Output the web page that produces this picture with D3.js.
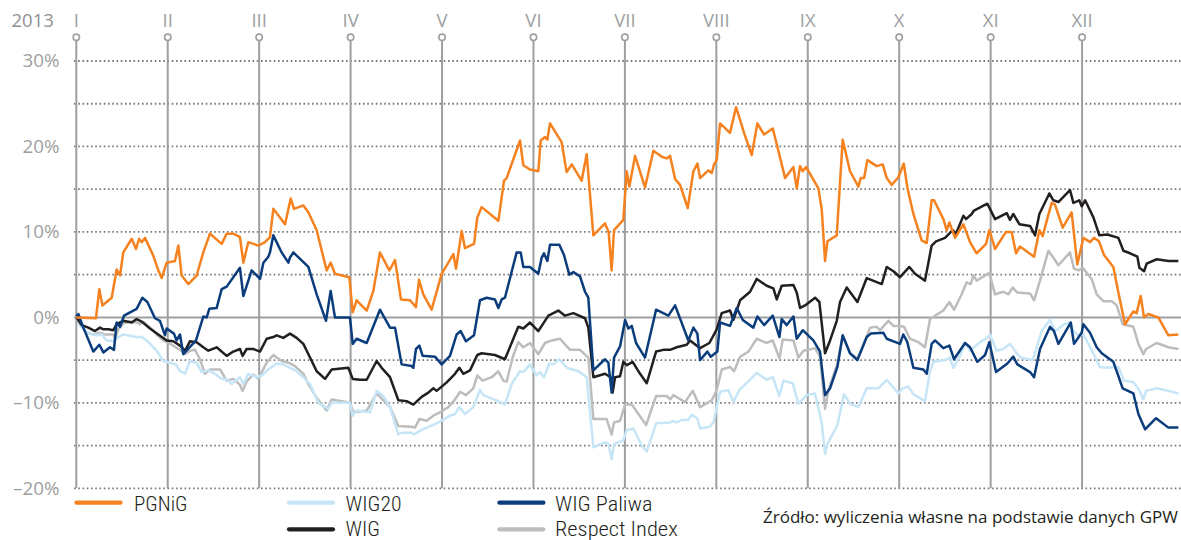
<!DOCTYPE html>
<html><head><meta charset="utf-8">
<script src="https://cdn.jsdelivr.net/npm/d3@7"></script>
<style>body{margin:0;background:#fff}svg{display:block}</style>
</head><body><svg id="c" width="1181" height="540"></svg>
<script>
// ---------- data ----------
const yearLabel = "2013";
const monthLabels = ["I","II","III","IV","V","VI","VII","VIII","IX","X","XI","XII"];
const yTickValues = [30, 20, 10, 0, -10, -20];
const gridValues = [30, 25, 20, 15, 10, 5, -5, -10, -15, -20];
const sourceText = "Źródło: wyliczenia własne na podstawie danych GPW";
// [time in months since 1 Jan, % change]
const pgnig = [[0,0],[0.215,-0.1],[0.252,3.3],[0.285,1.4],[0.387,2.3],[0.441,5.6],[0.478,4.9],[0.514,7.6],[0.606,9.2],[0.653,8.0],[0.686,9.2],[0.715,8.8],[0.751,9.3],[0.843,7.2],[0.897,5.5],[0.934,4.6],[0.988,6.4],[1.079,6.6],[1.116,8.4],[1.152,4.9],[1.225,3.9],[1.316,4.9],[1.389,7.6],[1.462,9.8],[1.590,8.6],[1.645,9.8],[1.717,9.8],[1.790,9.4],[1.827,6.4],[1.881,8.8],[1.991,8.4],[2.064,8.8],[2.118,9.4],[2.155,12.7],[2.283,10.9],[2.345,13.9],[2.381,12.7],[2.483,13.1],[2.538,12.3],[2.629,10.2],[2.738,5.5],[2.782,6.4],[2.829,5.1],[2.986,4.7],[3.023,0.6],[3.066,2.0],[3.176,0.8],[3.249,3.1],[3.321,7.6],[3.424,5.5],[3.486,6.7],[3.551,2.1],[3.650,2.0],[3.715,1.2],[3.748,4.4],[3.795,2.7],[3.886,0.9],[3.996,5.1],[4.124,7.4],[4.153,5.7],[4.215,10.1],[4.251,8.1],[4.350,8.6],[4.386,11.7],[4.433,12.9],[4.616,11.3],[4.678,16.0],[4.707,16.3],[4.853,20.7],[4.889,17.8],[4.962,17.3],[5.053,17.1],[5.079,20.7],[5.126,21.1],[5.152,20.8],[5.181,22.7],[5.308,20.5],[5.363,17.0],[5.418,17.9],[5.527,16.0],[5.582,19.1],[5.655,9.6],[5.782,11.0],[5.822,10.0],[5.855,5.5],[5.881,10.2],[5.983,11.4],[6.020,17.1],[6.049,15.3],[6.111,18.9],[6.220,15.2],[6.312,19.5],[6.403,18.8],[6.457,18.6],[6.494,18.9],[6.549,16.2],[6.603,15.5],[6.687,12.8],[6.749,17.1],[6.793,18.0],[6.822,16.3],[6.913,17.2],[6.950,16.9],[6.975,17.9],[7.004,18.4],[7.041,22.7],[7.150,21.6],[7.216,24.6],[7.303,21.6],[7.387,19.0],[7.449,22.7],[7.522,21.4],[7.617,22.1],[7.690,19.0],[7.752,16.3],[7.843,17.6],[7.879,15.1],[7.916,17.7],[7.945,17.1],[7.981,17.6],[8.116,15.1],[8.153,12.6],[8.189,6.6],[8.215,8.9],[8.317,9.6],[8.382,20.8],[8.462,17.1],[8.554,15.3],[8.579,16.3],[8.616,16.3],[8.652,18.4],[8.754,17.7],[8.820,17.9],[8.864,16.3],[8.918,15.5],[8.991,16.4],[9.050,18.0],[9.089,15.2],[9.155,12.1],[9.246,9.0],[9.301,8.7],[9.355,13.7],[9.381,13.7],[9.483,11.5],[9.519,10.2],[9.549,11.1],[9.611,9.3],[9.702,10.9],[9.775,8.8],[9.847,7.5],[9.950,8.6],[9.986,10.2],[10.048,8.0],[10.168,10.0],[10.230,10.0],[10.278,7.5],[10.321,8.3],[10.475,7.1],[10.533,10.2],[10.569,9.5],[10.631,12.0],[10.668,13.4],[10.704,13.2],[10.788,10.5],[10.886,12.3],[10.948,6.2],[11.014,9.3],[11.087,8.8],[11.131,9.3],[11.185,8.9],[11.240,7.3],[11.342,5.9],[11.397,2.9],[11.470,-0.8],[11.561,0.7],[11.597,0.5],[11.641,2.5],[11.678,0.0],[11.725,0.4],[11.834,0.0],[11.944,-2.1],[12.053,-2.0]];
const wigPaliwa = [[0,0.1],[0.022,0.4],[0.077,-1.2],[0.186,-4.0],[0.252,-3.2],[0.296,-4.1],[0.368,-3.5],[0.412,-3.8],[0.441,-0.6],[0.478,-1.1],[0.522,0.2],[0.624,0.8],[0.660,1.0],[0.722,2.3],[0.777,1.8],[0.861,-0.1],[0.915,-0.4],[0.970,-2.1],[0.988,-1.3],[1.068,-1.9],[1.097,-2.7],[1.134,-2.0],[1.170,-4.3],[1.309,-2.7],[1.389,0.1],[1.426,0.0],[1.455,1.0],[1.535,1.1],[1.590,3.3],[1.645,3.6],[1.790,5.8],[1.827,2.5],[1.918,5.5],[2.009,4.5],[2.046,6.4],[2.100,7.1],[2.118,7.6],[2.155,9.6],[2.246,7.6],[2.319,6.4],[2.337,7.0],[2.374,7.6],[2.538,5.9],[2.629,2.7],[2.731,-0.4],[2.782,3.1],[2.829,0.0],[2.993,0.0],[3.023,-3.1],[3.066,-2.5],[3.176,-3.0],[3.321,0.9],[3.431,-1.2],[3.486,-1.2],[3.558,-5.5],[3.668,-5.7],[3.686,-5.9],[3.715,-3.7],[3.752,-3.3],[3.788,-4.5],[3.923,-4.6],[3.996,-5.5],[4.087,-4.5],[4.160,-2.0],[4.204,-1.6],[4.262,-2.8],[4.350,-2.1],[4.415,2.0],[4.488,2.3],[4.579,2.1],[4.616,1.1],[4.652,2.1],[4.688,2.3],[4.816,7.6],[4.860,7.6],[4.889,5.9],[4.962,5.9],[5.053,5.1],[5.090,7.0],[5.115,7.5],[5.152,6.6],[5.181,8.5],[5.283,8.5],[5.334,7.3],[5.392,5.0],[5.436,5.3],[5.509,4.8],[5.564,3.0],[5.600,2.3],[5.655,-6.2],[5.782,-4.9],[5.819,-5.3],[5.855,-8.8],[5.881,-4.7],[5.947,-3.4],[6.002,-0.3],[6.038,-1.3],[6.075,-1.0],[6.122,-3.0],[6.220,-4.7],[6.341,0.9],[6.476,0.2],[6.549,1.4],[6.694,-2.7],[6.749,-1.2],[6.793,-1.9],[6.822,-5.0],[6.902,-4.0],[6.939,-4.6],[7.011,-4.0],[7.041,-0.6],[7.150,-1.0],[7.223,1.1],[7.289,-0.3],[7.405,-1.2],[7.449,0.1],[7.522,-0.9],[7.617,0.2],[7.690,-2.3],[7.715,-0.2],[7.770,-0.9],[7.843,0.1],[7.879,-2.5],[7.945,-1.5],[8.061,-2.7],[8.134,-4.0],[8.189,-9.1],[8.244,-8.3],[8.324,-5.8],[8.382,-2.1],[8.462,-4.2],[8.543,-5.0],[8.645,-2.3],[8.689,-1.9],[8.827,-1.8],[8.864,-2.5],[9.009,-3.1],[9.045,-2.0],[9.089,-2.9],[9.155,-5.9],[9.264,-6.1],[9.301,-6.6],[9.355,-3.1],[9.392,-2.7],[9.483,-3.6],[9.549,-3.3],[9.600,-4.9],[9.720,-3.0],[9.775,-3.5],[9.855,-5.2],[9.939,-4.4],[9.986,-2.9],[10.059,-6.4],[10.183,-5.4],[10.248,-4.6],[10.292,-5.5],[10.431,-6.4],[10.475,-7.0],[10.540,-3.7],[10.650,-1.1],[10.693,-1.6],[10.741,-3.1],[10.876,-0.6],[10.912,-3.1],[10.996,-1.8],[11.014,-0.8],[11.087,-1.8],[11.160,-3.5],[11.215,-4.2],[11.342,-5.2],[11.379,-6.3],[11.444,-8.3],[11.561,-8.9],[11.616,-11.3],[11.689,-13.1],[11.809,-11.8],[11.944,-12.9],[12.053,-12.9]];
const wig = [[0,0],[0.059,-0.9],[0.131,-1.2],[0.204,-1.6],[0.259,-1.2],[0.296,-1.4],[0.350,-1.4],[0.405,-1.5],[0.441,-0.8],[0.514,-0.4],[0.606,-0.6],[0.660,-0.2],[0.715,-0.5],[0.806,-1.3],[0.897,-2.0],[0.988,-2.7],[1.061,-2.8],[1.134,-3.3],[1.189,-3.9],[1.243,-2.8],[1.316,-2.9],[1.389,-3.5],[1.444,-3.9],[1.535,-3.5],[1.645,-4.5],[1.717,-4.0],[1.790,-3.7],[1.819,-4.5],[1.863,-3.7],[1.936,-3.7],[2.009,-4.0],[2.082,-2.5],[2.155,-2.3],[2.191,-2.1],[2.264,-2.4],[2.337,-1.9],[2.410,-2.4],[2.483,-3.1],[2.556,-4.7],[2.629,-6.3],[2.720,-7.2],[2.793,-6.1],[2.975,-5.9],[3.023,-7.2],[3.103,-7.3],[3.176,-7.3],[3.285,-5.1],[3.340,-5.9],[3.431,-7.0],[3.522,-9.7],[3.613,-9.8],[3.686,-10.2],[3.777,-9.3],[3.850,-8.8],[3.905,-8.3],[3.941,-8.6],[4.051,-7.6],[4.142,-6.6],[4.189,-5.9],[4.233,-6.6],[4.306,-6.2],[4.386,-4.4],[4.433,-4.2],[4.579,-4.4],[4.688,-4.9],[4.834,-1.1],[4.889,-1.3],[4.962,-0.6],[5.053,-1.6],[5.108,-0.7],[5.163,0.2],[5.272,0.8],[5.345,0.2],[5.436,0.5],[5.564,-0.1],[5.600,-1.2],[5.655,-7.0],[5.782,-6.6],[5.844,-7.0],[5.866,-8.8],[5.892,-7.0],[5.947,-6.9],[5.983,-5.2],[6.020,-5.6],[6.085,-5.2],[6.166,-6.6],[6.239,-7.7],[6.341,-4.0],[6.421,-3.8],[6.494,-3.8],[6.567,-3.5],[6.676,-3.2],[6.713,-2.7],[6.822,-3.6],[6.924,-3.0],[7.004,-1.4],[7.059,0.5],[7.150,0.8],[7.187,-0.3],[7.260,2.0],[7.369,3.0],[7.442,4.5],[7.551,3.7],[7.624,3.4],[7.661,2.1],[7.715,3.7],[7.843,3.8],[7.879,2.9],[7.916,1.1],[7.970,1.4],[8.080,2.3],[8.127,1.8],[8.189,-4.2],[8.244,-2.7],[8.317,-0.4],[8.353,1.8],[8.426,3.5],[8.543,1.8],[8.645,4.6],[8.809,3.9],[8.864,5.9],[8.937,5.4],[9.009,4.7],[9.111,5.9],[9.173,5.1],[9.282,4.3],[9.355,8.4],[9.403,8.9],[9.501,9.3],[9.585,10.2],[9.621,9.8],[9.702,11.9],[9.731,11.5],[9.793,12.1],[9.818,12.5],[9.964,13.3],[9.993,12.7],[10.048,11.5],[10.176,12.2],[10.212,11.4],[10.248,12.1],[10.314,10.9],[10.431,10.7],[10.486,9.6],[10.533,12.1],[10.642,14.5],[10.686,13.7],[10.741,13.5],[10.868,14.9],[10.905,13.4],[10.970,13.7],[10.996,13.0],[11.033,13.7],[11.124,11.7],[11.189,9.6],[11.277,9.7],[11.397,9.3],[11.452,7.8],[11.525,7.5],[11.605,7.1],[11.627,5.8],[11.678,5.4],[11.707,6.3],[11.816,6.8],[11.944,6.6],[12.053,6.6]];
const wig20 = [[0,0],[0.077,-1.4],[0.150,-1.9],[0.223,-2.1],[0.277,-2.0],[0.332,-2.7],[0.405,-2.8],[0.459,-2.3],[0.514,-2.0],[0.660,-2.3],[0.715,-2.3],[0.769,-2.7],[0.879,-3.9],[0.952,-5.1],[1.025,-5.3],[1.090,-5.5],[1.127,-6.2],[1.189,-6.6],[1.243,-5.1],[1.316,-5.3],[1.371,-6.4],[1.444,-6.2],[1.517,-6.6],[1.590,-7.2],[1.645,-7.2],[1.699,-7.8],[1.790,-7.0],[1.827,-7.8],[1.881,-6.6],[1.972,-7.0],[2.027,-6.8],[2.100,-6.1],[2.191,-5.4],[2.264,-5.5],[2.337,-5.9],[2.410,-6.3],[2.483,-7.0],[2.556,-7.8],[2.647,-10.0],[2.756,-10.7],[2.793,-10.0],[2.993,-10.0],[3.023,-11.5],[3.066,-10.9],[3.212,-11.1],[3.285,-8.6],[3.358,-9.2],[3.431,-10.5],[3.522,-13.7],[3.558,-13.5],[3.668,-13.5],[3.693,-13.7],[3.788,-13.1],[3.923,-12.5],[3.978,-12.2],[4.087,-11.5],[4.142,-11.3],[4.189,-10.5],[4.251,-11.3],[4.342,-10.5],[4.415,-8.5],[4.452,-9.1],[4.543,-9.5],[4.616,-9.8],[4.688,-10.2],[4.761,-7.8],[4.853,-6.3],[4.889,-6.4],[4.962,-5.5],[5.035,-6.8],[5.071,-6.4],[5.115,-7.0],[5.173,-5.4],[5.217,-5.5],[5.283,-4.9],[5.363,-5.9],[5.491,-6.3],[5.582,-7.0],[5.655,-15.2],[5.782,-14.6],[5.819,-14.8],[5.855,-16.6],[5.881,-14.8],[5.983,-14.4],[6.020,-13.2],[6.093,-13.0],[6.184,-15.0],[6.239,-15.7],[6.341,-12.4],[6.494,-12.3],[6.523,-12.1],[6.567,-12.3],[6.621,-12.0],[6.694,-12.0],[6.731,-11.4],[6.793,-11.8],[6.822,-13.0],[6.924,-12.8],[6.968,-12.3],[7.041,-8.7],[7.132,-8.5],[7.187,-9.9],[7.252,-8.5],[7.442,-6.5],[7.551,-7.3],[7.617,-7.0],[7.690,-9.2],[7.734,-7.4],[7.835,-7.7],[7.898,-10.1],[7.989,-9.1],[8.080,-8.9],[8.153,-12.4],[8.189,-16.0],[8.215,-14.8],[8.324,-12.6],[8.397,-9.0],[8.462,-10.1],[8.554,-10.5],[8.645,-8.3],[8.772,-8.3],[8.864,-7.3],[8.991,-8.9],[9.038,-8.3],[9.100,-8.1],[9.155,-9.0],[9.282,-9.8],[9.337,-6.3],[9.373,-5.2],[9.501,-5.0],[9.556,-4.7],[9.592,-5.9],[9.665,-4.5],[9.720,-3.0],[9.775,-3.9],[9.884,-2.9],[9.964,-2.4],[9.993,-2.0],[10.066,-3.9],[10.139,-3.7],[10.212,-3.1],[10.285,-4.2],[10.329,-4.7],[10.460,-5.0],[10.558,-1.6],[10.613,-0.8],[10.650,-0.3],[10.704,-1.6],[10.759,-1.2],[10.803,-0.8],[10.876,-0.6],[10.905,-1.6],[10.960,-2.1],[11.007,-1.9],[11.105,-3.8],[11.196,-5.8],[11.251,-5.9],[11.397,-5.8],[11.459,-7.4],[11.561,-7.6],[11.605,-8.2],[11.634,-8.7],[11.670,-9.6],[11.700,-8.6],[11.816,-8.3],[11.944,-8.6],[12.053,-8.9]];
const respect = [[0,0],[0.040,-0.9],[0.113,-1.8],[0.186,-2.0],[0.259,-1.8],[0.314,-2.0],[0.405,-2.0],[0.423,-2.5],[0.460,-1.4],[0.514,-0.7],[0.587,-0.5],[0.660,-0.6],[0.697,-0.8],[0.733,-0.5],[0.806,-1.2],[0.879,-2.0],[0.952,-2.7],[1.043,-3.2],[1.134,-3.8],[1.189,-4.3],[1.243,-3.9],[1.298,-3.8],[1.353,-4.9],[1.407,-6.6],[1.462,-6.1],[1.572,-6.1],[1.645,-7.4],[1.717,-7.2],[1.790,-7.9],[1.819,-8.6],[1.863,-7.5],[1.936,-6.7],[1.991,-7.2],[2.082,-5.3],[2.155,-4.4],[2.246,-5.1],[2.319,-5.3],[2.392,-5.7],[2.483,-6.6],[2.538,-7.8],[2.629,-9.4],[2.738,-10.9],[2.793,-9.6],[2.993,-10.0],[3.030,-11.1],[3.176,-10.9],[3.285,-8.9],[3.431,-10.5],[3.522,-12.7],[3.668,-12.8],[3.704,-12.9],[3.752,-11.9],[3.832,-12.1],[3.905,-11.5],[3.978,-11.1],[4.069,-10.5],[4.142,-9.6],[4.197,-8.7],[4.262,-9.1],[4.342,-8.3],[4.386,-6.8],[4.444,-7.4],[4.543,-7.0],[4.616,-6.3],[4.670,-7.4],[4.707,-7.5],[4.772,-4.7],[4.834,-2.9],[4.889,-3.5],[4.962,-3.0],[5.053,-4.3],[5.126,-3.0],[5.199,-2.7],[5.290,-2.5],[5.400,-3.8],[5.509,-3.8],[5.600,-4.7],[5.655,-11.9],[5.800,-11.9],[5.855,-13.7],[5.881,-12.3],[5.947,-12.1],[6.002,-10.2],[6.075,-10.2],[6.232,-12.6],[6.341,-9.2],[6.457,-9.2],[6.494,-9.6],[6.530,-9.1],[6.658,-9.9],[6.742,-8.6],[6.822,-10.5],[6.950,-9.7],[7.004,-8.5],[7.059,-6.1],[7.150,-5.8],[7.194,-6.3],[7.260,-4.6],[7.351,-4.0],[7.442,-2.5],[7.551,-3.0],[7.617,-2.7],[7.690,-4.8],[7.726,-2.6],[7.843,-2.7],[7.898,-4.7],[7.952,-3.9],[8.080,-3.6],[8.134,-4.6],[8.189,-10.7],[8.226,-8.5],[8.324,-5.4],[8.382,-2.2],[8.462,-4.2],[8.543,-4.8],[8.645,-2.2],[8.682,-1.2],[8.754,-1.1],[8.791,-1.5],[8.882,-0.4],[8.937,-1.0],[9.009,-1.0],[9.053,-1.1],[9.118,-2.5],[9.210,-2.9],[9.282,-3.5],[9.337,-0.2],[9.392,0.2],[9.483,0.8],[9.549,1.8],[9.600,0.9],[9.683,2.7],[9.738,4.1],[9.782,3.9],[9.811,4.9],[9.847,4.3],[9.986,5.2],[10.048,2.7],[10.139,3.0],[10.194,2.7],[10.241,3.5],[10.292,2.9],[10.431,2.8],[10.475,2.0],[10.540,4.3],[10.631,7.8],[10.679,7.1],[10.741,6.1],[10.868,7.6],[10.912,5.7],[10.960,5.5],[11.007,5.8],[11.105,4.5],[11.160,2.7],[11.233,1.9],[11.324,1.9],[11.379,1.4],[11.444,-0.8],[11.561,-1.1],[11.616,-3.1],[11.670,-4.3],[11.700,-3.7],[11.816,-3.0],[11.944,-3.5],[12.053,-3.7]];

const seriesNames = ["PGNiG", "WIG20", "WIG Paliwa", "WIG", "Respect Index"];
const seriesData = { "PGNiG": pgnig, "WIG20": wig20, "WIG Paliwa": wigPaliwa, "WIG": wig, "Respect Index": respect };
const seriesColors = { "PGNiG": "#f5821f", "WIG20": "#c6e6f7", "WIG Paliwa": "#0b3d7d", "WIG": "#231f20", "Respect Index": "#bdbdbe" };
const drawOrder = ["Respect Index", "WIG20", "WIG", "WIG Paliwa", "PGNiG"];

// ---------- chart ----------
const svg = d3.select("#c");
const x = d3.scaleLinear().domain([0, 12]).range([76.3, 1173.5]);
const y = d3.scaleLinear().domain([-20, 30]).range([488.3, 61]);
const gridLeft = 74, gridRight = 1181;
const lblFont = "'Open Sans', 'Noto Sans', sans-serif";

// dotted horizontal grid
svg.append("g").selectAll("line").data(gridValues).join("line")
  .attr("x1", gridLeft).attr("x2", gridRight)
  .attr("y1", d => y(d)).attr("y2", d => y(d))
  .attr("stroke", "#77787b").attr("stroke-width", 1.8)
  .attr("stroke-dasharray", "1.6 2.65");

// month vertical lines, markers, labels
const mg = svg.append("g");
mg.selectAll("line").data(monthLabels).join("line")
  .attr("x1", (d, i) => x(i)).attr("x2", (d, i) => x(i))
  .attr("y1", 40.5).attr("y2", y(-20))
  .attr("stroke", "#9d9fa2").attr("stroke-width", 2);
mg.selectAll("circle").data(monthLabels).join("circle")
  .attr("cx", (d, i) => x(i)).attr("cy", 37.3).attr("r", 3.2)
  .attr("fill", "#fff").attr("stroke", "#9d9fa2").attr("stroke-width", 1.6);
mg.selectAll("text").data(monthLabels).join("text")
  .attr("x", (d, i) => x(i)).attr("y", 26.7)
  .attr("text-anchor", "middle")
  .attr("font-family", lblFont).attr("font-size", 18.5)
  .attr("fill", "#9d9fa2").text(d => d);
svg.append("text").attr("x", 11.5).attr("y", 26.7)
  .attr("font-family", lblFont).attr("font-size", 18.5)
  .attr("fill", "#8f9194").text(yearLabel);

// zero line
svg.append("line").attr("x1", gridLeft).attr("x2", gridRight)
  .attr("y1", y(0)).attr("y2", y(0))
  .attr("stroke", "#9d9fa2").attr("stroke-width", 2);

// y labels
svg.append("g").selectAll("text").data(yTickValues).join("text")
  .attr("x", 59.5).attr("y", d => y(d) + 6.2)
  .attr("text-anchor", "end")
  .attr("font-family", lblFont).attr("font-size", 18.8)
  .attr("fill", "#9d9fa2")
  .text(d => (d < 0 ? "\u2013" + Math.abs(d) : d) + "%");

// series lines
const line = d3.line().x(d => x(d[0])).y(d => y(d[1]));
svg.append("g").selectAll("path").data(drawOrder).join("path")
  .attr("d", k => line(seriesData[k]))
  .attr("fill", "none")
  .attr("stroke", k => seriesColors[k])
  .attr("stroke-width", 2.5)
  .attr("stroke-linejoin", "round");

// legend
const legendLayout = [
  { name: "PGNiG", lx: 76.5, tx: 134, row: 0, w: 53.5 },
  { name: "WIG20", lx: 289, tx: 345.6, row: 0, w: 56 },
  { name: "WIG Paliwa", lx: 499.4, tx: 555, row: 0, w: 97.6 },
  { name: "WIG", lx: 289, tx: 345.6, row: 1, w: 34.4 },
  { name: "Respect Index", lx: 499.4, tx: 555, row: 1, w: 122.8 }
];
const rowLineY = [502.7, 529.3], rowTextY = [511, 535.8];
const lg = svg.append("g");
lg.selectAll("line").data(legendLayout).join("line")
  .attr("x1", d => d.lx).attr("x2", d => d.lx + 44)
  .attr("y1", d => rowLineY[d.row]).attr("y2", d => rowLineY[d.row])
  .attr("stroke", d => seriesColors[d.name]).attr("stroke-width", 4.2)
  .attr("stroke-linecap", "round");
lg.selectAll("text").data(legendLayout).join("text")
  .attr("x", d => d.tx).attr("y", d => rowTextY[d.row])
  .attr("font-family", "'Liberation Sans Narrow', 'Roboto Condensed', 'DejaVu Sans Condensed', 'Roboto', sans-serif")
  .attr("font-size", 19.5).attr("font-weight", 300).attr("fill", "#231f20")
  .attr("textLength", d => d.w).attr("lengthAdjust", "spacingAndGlyphs")
  .text(d => d.name);

svg.append("text").attr("x", 1178).attr("y", 523.3)
  .attr("text-anchor", "end")
  .attr("font-family", lblFont).attr("font-size", 16.5)
  .attr("fill", "#231f20")
  .attr("textLength", 415).attr("lengthAdjust", "spacingAndGlyphs")
  .text(sourceText);
</script></body></html>
